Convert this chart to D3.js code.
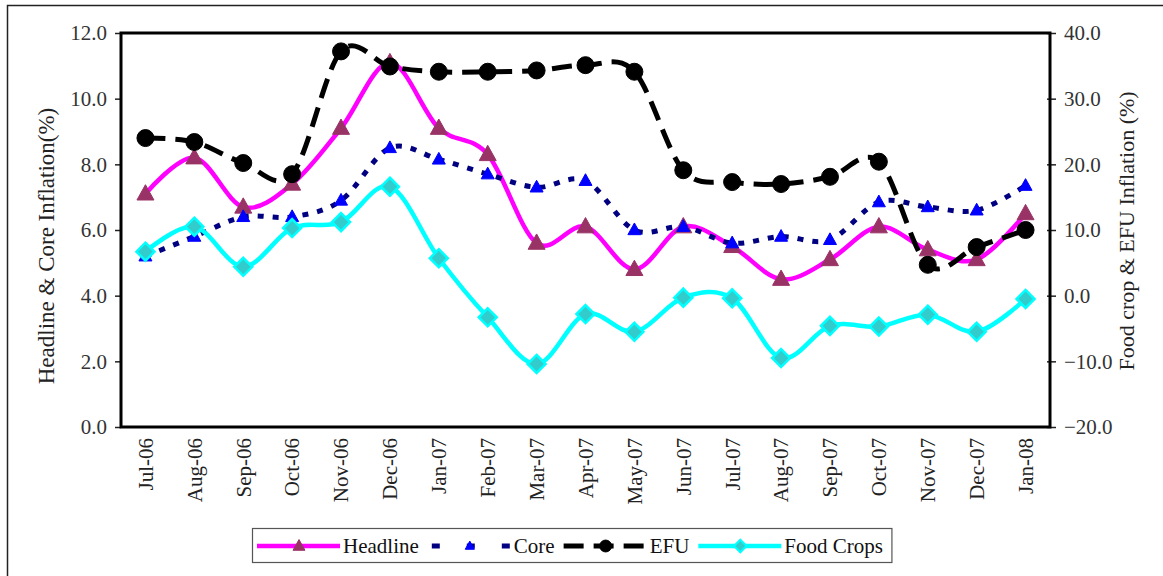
<!DOCTYPE html>
<html><head><meta charset="utf-8">
<script src="https://cdn.jsdelivr.net/npm/d3@7"></script>
<style>html,body{margin:0;padding:0;background:#fff;}svg{display:block;}</style>
</head><body>
<svg id="c" width="1163" height="576"></svg>
<script>
const categories = ["Jul-06","Aug-06","Sep-06","Oct-06","Nov-06","Dec-06","Jan-07","Feb-07","Mar-07","Apr-07","May-07","Jun-07","Jul-07","Aug-07","Sep-07","Oct-07","Nov-07","Dec-07","Jan-08"];
const headline = [7.1,8.2,6.7,7.4,9.1,11.1,9.1,8.3,5.6,6.1,4.8,6.1,5.5,4.5,5.1,6.1,5.4,5.1,6.5];
const core = [5.2,5.8,6.4,6.4,6.9,8.5,8.15,7.7,7.3,7.5,6.0,6.1,5.6,5.8,5.7,6.85,6.7,6.6,7.35];
const efu = [24.0,23.4,20.2,18.5,37.2,34.9,34.1,34.1,34.3,35.1,34.1,19.1,17.3,17.0,18.1,20.4,4.7,7.4,10.0];
const foodCrops = [6.7,10.5,4.4,10.3,11.2,16.6,5.7,-3.3,-10.4,-2.8,-5.5,-0.3,-0.4,-9.5,-4.6,-4.7,-2.9,-5.5,-0.5];
const leftTicks = [0,2,4,6,8,10,12];
const rightTicks = [-20,-10,0,10,20,30,40];
const seriesNames = ["Headline","Core","EFU","Food Crops"];

const FONT = "'Liberation Serif','Times New Roman',serif";
const svg = d3.select("#c");
const L = 121, R = 1050, T = 33, B = 427;

const x = d3.scaleBand().domain(categories).range([L, R]);
const yL = d3.scaleLinear().domain([0, 12]).range([B, T]);
const yR = d3.scaleLinear().domain([-20, 40]).range([B, T]);
const cx = c => x(c) + x.bandwidth() / 2;

// outer border (left and top visible)
svg.append("path").attr("d", `M7.5,${576}V5.5H1163`).attr("fill","none").attr("stroke","#222").attr("stroke-width",1.5);

// axes
const gL = svg.append("g").attr("transform", `translate(${L},0)`)
  .call(d3.axisLeft(yL).tickValues(leftTicks).tickFormat(d3.format(".1f")).tickSize(6).tickSizeOuter(0));
const gR = svg.append("g").attr("transform", `translate(${R},0)`)
  .call(d3.axisRight(yR).tickValues(rightTicks).tickFormat(d3.format(".1f")).tickSize(6).tickSizeOuter(0));
[gL, gR].forEach(g => {
  g.select(".domain").remove();
  g.selectAll(".tick line").attr("stroke","#222").attr("stroke-width",1.5);
  g.selectAll(".tick text").attr("font-family",FONT).attr("font-size","21px").attr("fill","#333");
});
gL.selectAll(".tick text").attr("x",-14);
gR.selectAll(".tick text").attr("x",14);
gR.selectAll(".tick line").attr("x1",-3);

const gX = svg.append("g").attr("transform", `translate(0,${B})`)
  .call(d3.axisBottom(x).tickSize(0).tickSizeOuter(0));
gX.select(".domain").remove();
gX.selectAll(".tick text").attr("font-family",FONT).attr("font-size","21px").attr("fill","#222")
  .attr("transform","rotate(-90)").attr("text-anchor","end").attr("x",-11).attr("y",0).attr("dy","0.35em");

// plot frame
svg.append("rect").attr("x",L).attr("y",T).attr("width",R-L).attr("height",B-T)
  .attr("fill","none").attr("stroke","#000").attr("stroke-width",3);

// axis titles
svg.append("text").attr("transform",`translate(54,${246}) rotate(-90)`).attr("text-anchor","middle")
  .attr("font-family",FONT).attr("font-size","23px").attr("fill","#222").text("Headline & Core Inflation(%)");
svg.append("text").attr("transform",`translate(1134,${231}) rotate(-90)`).attr("text-anchor","middle")
  .attr("font-family",FONT).attr("font-size","22px").attr("fill","#222").text("Food crop & EFU Inflation (%)");

const curve = d3.curveCardinal.tension(0);
const styles = [
  {name:"Headline", data:headline, y:yL, stroke:"#FF00FF", width:4.5, dash:null, ldash:null, marker:"tri", mfill:"#993366", mstroke:"#993366", msize:17},
  {name:"Core", data:core, y:yL, stroke:"#000080", width:5, dash:"6,9", ldash:"0,4,8,23", marker:"tri", mfill:"#0000FF", mstroke:"#0000FF", msize:13},
  {name:"EFU", data:efu, y:yR, stroke:"#000000", width:5, dash:"20,10", ldash:"20,10", marker:"circle", mfill:"#000", mstroke:"#000", msize:17},
  {name:"Food Crops", data:foodCrops, y:yR, stroke:"#00FFFF", width:4.5, dash:null, ldash:null, marker:"diamond", mfill:"#33CCCC", mstroke:"#00FFFF", msize:18}
];

function markerPath(type, s) {
  if (type === "tri") { const h = s*0.9; return `M0,${-h*0.6}L${s/2},${h*0.4}L${-s/2},${h*0.4}Z`; }
  if (type === "diamond") { const r = s/2; return `M0,${-r}L${r},0L0,${r}L${-r},0Z`; }
  const r = s/2; return `M${r},0A${r},${r} 0 1,1 ${-r},0A${r},${r} 0 1,1 ${r},0Z`;
}

styles.forEach(st => {
  const line = d3.line().x((d,i) => cx(categories[i])).y(d => st.y(d)).curve(curve);
  svg.append("path").datum(st.data).attr("d", line).attr("fill","none")
    .attr("stroke", st.stroke).attr("stroke-width", st.width)
    .attr("stroke-dasharray", st.dash).attr("stroke-linejoin","round");
  svg.append("g").selectAll("path").data(st.data).join("path")
    .attr("transform",(d,i)=>`translate(${cx(categories[i])},${st.y(d)})`)
    .attr("d", markerPath(st.marker, st.msize))
    .attr("fill", st.mfill).attr("stroke", st.mstroke).attr("stroke-width", st.marker==="diamond"?2.5:1);
});

// legend
const lg = svg.append("g");
const box = lg.append("rect").attr("y",528.5).attr("height",34).attr("fill","#fff").attr("stroke","#555").attr("stroke-width",1.2);
let lx = 257;
const ly = 546;
styles.forEach(st => {
  lg.append("line").attr("x1",lx).attr("x2",lx+83).attr("y1",ly).attr("y2",ly)
    .attr("stroke",st.stroke).attr("stroke-width",st.width).attr("stroke-dasharray",st.ldash);
  lg.append("path").attr("transform",`translate(${lx+42},${ly})`).attr("d",markerPath(st.marker, st.msize*0.7))
    .attr("fill",st.mfill).attr("stroke",st.mstroke).attr("stroke-width",st.marker==="diamond"?2:1);
  const t = lg.append("text").attr("x",lx+86).attr("y",ly).attr("dy","0.35em")
    .attr("font-family",FONT).attr("font-size","21px").attr("fill","#111").text(st.name);
  lx += 86 + t.node().getComputedTextLength() + 9;
});
box.attr("x",252.5).attr("width",lx - 252.5);
</script>
</body></html>
